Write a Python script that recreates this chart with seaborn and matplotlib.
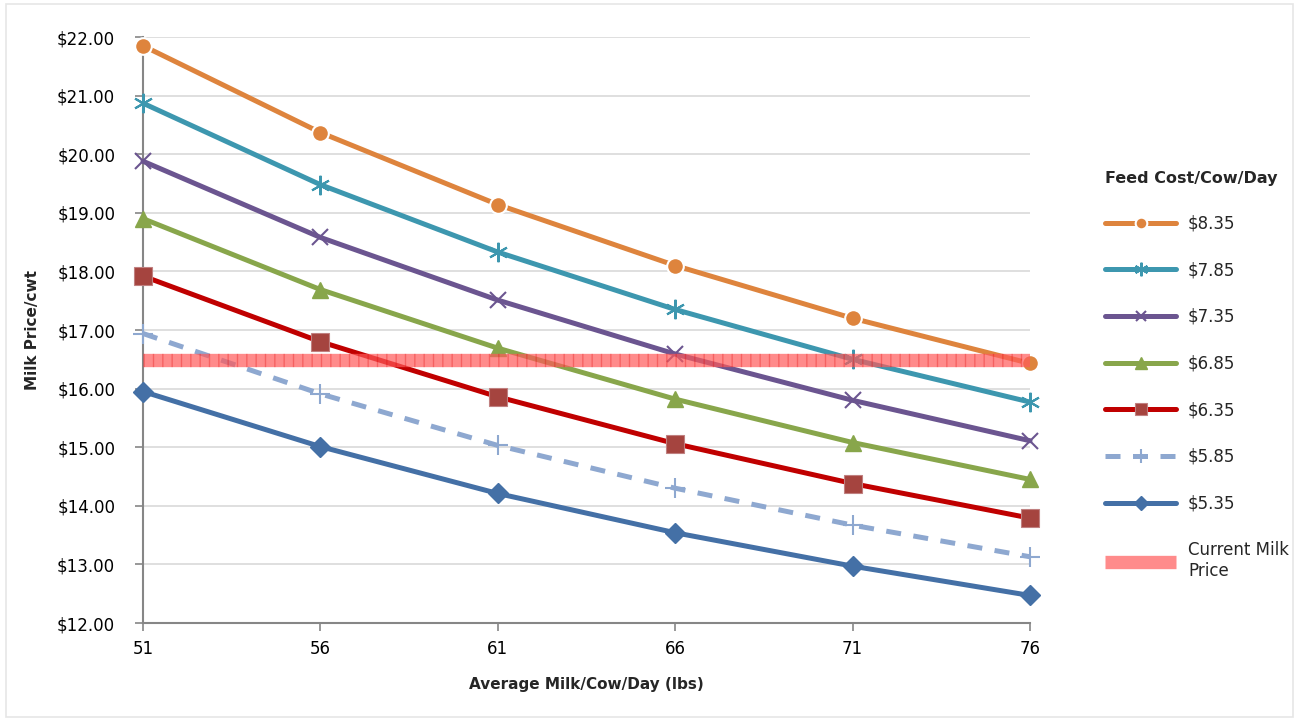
import pandas as pd
import seaborn as sns
import matplotlib.pyplot as plt
from matplotlib.patches import Rectangle

# Milk produced per cow per day (lbs)
milk_lbs = [51, 56, 61, 66, 71, 76]

# Break-even milk price ($/cwt) for each feed cost level
feed_costs = ["$8.35", "$7.85", "$7.35", "$6.85", "$6.35", "$5.85", "$5.35"]
price_835 = [21.85, 20.37, 19.14, 18.10, 17.20, 16.43]
price_785 = [20.87, 19.48, 18.33, 17.35, 16.50, 15.77]
price_735 = [19.88, 18.58, 17.51, 16.59, 15.80, 15.11]
price_685 = [18.90, 17.69, 16.69, 15.82, 15.08, 14.45]
price_635 = [17.92, 16.80, 15.86, 15.06, 14.38, 13.79]
price_585 = [16.94, 15.91, 15.03, 14.30, 13.67, 13.13]
price_535 = [15.95, 15.01, 14.21, 13.54, 12.97, 12.47]
current_milk_price = 16.49

y_ticks = [12, 13, 14, 15, 16, 17, 18, 19, 20, 21, 22]

series = [price_835, price_785, price_735, price_685, price_635, price_585, price_535]

# Long-form table for seaborn
rows = []
for cost, values in zip(feed_costs, series):
    for x, y in zip(milk_lbs, values):
        rows.append({"milk": x, "price": y, "cost": cost})
df = pd.DataFrame(rows)

# Line styling per feed cost
styles = {
    "$8.35": dict(color="#DE843D", marker="o", mfc="#DE843D", mec="white", ms=12, mew=1.5, ls="-"),
    "$7.85": dict(color="#3D97AF", marker=(6, 2, 0), mfc="#3D97AF", mec="#3D97AF", ms=14, mew=1.5, ls="-"),
    "$7.35": dict(color="#6B5590", marker="x", mfc="#6B5590", mec="#6B5590", ms=11, mew=1.5, ls="-"),
    "$6.85": dict(color="#88A64B", marker="^", mfc="#88A64B", mec="#88A64B", ms=12, mew=1, ls="-"),
    "$6.35": dict(color="#C00000", marker="s", mfc="#A5443F", mec="#C08080", ms=12.5, mew=0.8, ls="-"),
    "$5.85": dict(color="#8EA8D0", marker="+", mfc="#8EA8D0", mec="#8EA8D0", ms=14, mew=1.5, ls=(0, (3, 2.5))),
    "$5.35": dict(color="#4470A6", marker="D", mfc="#4470A6", mec="#4470A6", ms=10.5, mew=1, ls="-"),
}

sns.set_style("white")
plt.rcParams['font.family'] = ['DejaVu Sans']

fig = plt.figure(figsize=(12.99, 7.21), dpi=100)
ax = fig.add_axes([143 / 1299, 1 - 623 / 721, (1030 - 143) / 1299, (623 - 37) / 721])

for cost in feed_costs:
    s = styles[cost]
    sub = df[df["cost"] == cost]
    sns.lineplot(data=sub, x="milk", y="price", ax=ax, color=s["color"], linewidth=3.6,
                 linestyle=s["ls"], marker=s["marker"], markersize=s["ms"],
                 markerfacecolor=s["mfc"], markeredgecolor=s["mec"], markeredgewidth=s["mew"],
                 label=cost, legend=False, zorder=3, clip_on=False)

# Current milk price band
band = pd.DataFrame({"milk": milk_lbs, "price": [current_milk_price] * len(milk_lbs)})
sns.lineplot(data=band, x="milk", y="price", ax=ax, color="#FF5A5A", alpha=0.7,
             linewidth=9.6, solid_capstyle="butt", label="Current Milk\nPrice", legend=False, zorder=5)
sns.lineplot(data=band, x="milk", y="price", ax=ax, color="#E00000", alpha=0.3,
             linewidth=9.6, linestyle=(0, (0.1, 0.6)), dash_capstyle="butt",
             legend=False, zorder=6)

ax.set_xlim(51, 76)
ax.set_ylim(12, 22)
ax.set_xticks(milk_lbs)
ax.set_yticks(y_ticks)
ax.set_yticklabels([f"${v:.2f}" for v in y_ticks])
ax.tick_params(axis="both", labelsize=12, colors="#868686", labelcolor="black",
               length=6, width=1.2, direction="out")
ax.tick_params(axis="x", pad=6)
ax.tick_params(axis="y", pad=14)
ax.tick_params(left=True, bottom=True)

ax.yaxis.grid(True, color="#D9D9D9", linewidth=1.2)
ax.xaxis.grid(False)
ax.set_axisbelow(True)

ax.spines['top'].set_visible(False)
ax.spines['right'].set_visible(False)
ax.spines['left'].set_color('#868686')
ax.spines['bottom'].set_color('#868686')
ax.spines['left'].set_linewidth(1.5)
ax.spines['bottom'].set_linewidth(1.5)

ax.set_xlabel("Average Milk/Cow/Day (lbs)", fontweight="bold", fontsize=11, labelpad=14)
ax.set_ylabel("Milk Price/cwt", fontweight="bold", fontsize=11, labelpad=12)

# Legend on the right
handles, labels = ax.get_legend_handles_labels()
leg = fig.legend(handles, labels, loc="upper left", bbox_to_anchor=(1098 / 1299, 1 - 164 / 721),
                 frameon=False, fontsize=12, title="Feed Cost/Cow/Day", handlelength=4.3,
                 handletextpad=0.7, labelspacing=1.72, borderaxespad=0, markerscale=0.7)
leg.get_title().set_fontweight("bold")
leg.get_title().set_fontsize(11.5)
leg._legend_box.align = "left"

# Light outer border
fig.patches.append(Rectangle((6 / 1299, 4 / 721), 1 - 12 / 1299, 1 - 8 / 721,
                             transform=fig.transFigure, fill=False,
                             edgecolor="#E6E6E6", linewidth=1.2))

plt.savefig("out.png", dpi=100)
